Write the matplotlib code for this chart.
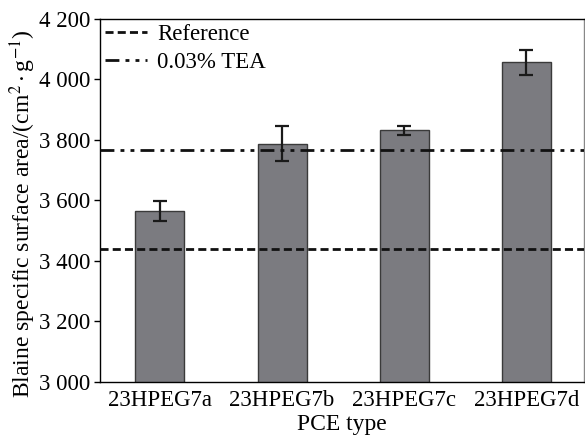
import matplotlib
matplotlib.use("Agg")
import matplotlib.pyplot as plt

plt.rcParams['font.family'] = ['Liberation Serif', 'DejaVu Serif']
plt.rcParams['mathtext.fontset'] = 'stix'

types = ['23HPEG7a', '23HPEG7b', '23HPEG7c', '23HPEG7d']
area = [3565, 3788, 3832, 4057]
err = [32, 58, 15, 42]
ref_line = 3440
tea_line = 3768
yticks = [3000, 3200, 3400, 3600, 3800, 4000, 4200]
ytick_labels = ['3 000', '3 200', '3 400', '3 600', '3 800', '4 000', '4 200']

fig = plt.figure(figsize=(5.85, 4.37), dpi=100)
ax = fig.add_axes([0.171, 0.126, 0.827, 0.8305])

x = range(len(types))
ax.bar(x, area, width=0.4, color='#7b7b80', edgecolor='#3a3a3a', linewidth=1, zorder=2)
ax.errorbar(x, area, yerr=err, fmt='none', ecolor='#1a1a1a', elinewidth=1.6,
            capsize=5, capthick=1.6, zorder=3)

ln1 = ax.axhline(ref_line, color='#111111', lw=2, linestyle=(0, (2.9, 1.5)), label='Reference', zorder=4)
ln2 = ax.axhline(tea_line, color='#111111', lw=2, linestyle=(0, (5, 2.2, 1.4, 2.2, 1.4, 2.2)),
                 label='0.03% TEA', zorder=4)

ax.set_xlim(-0.49, 3.47)
ax.set_ylim(3000, 4200)
ax.set_yticks(yticks)
ax.set_yticklabels(ytick_labels)
ax.set_xticks(list(x))
ax.set_xticklabels(types)
ax.tick_params(axis='x', length=0, labelsize=16.5, pad=6)
ax.tick_params(axis='y', length=4, width=1, labelsize=16.5, pad=3, direction='out')

for s in ax.spines.values():
    s.set_linewidth(1)
ax.spines['right'].set_color('#888888')

ax.set_xlabel('PCE type', fontsize=17, labelpad=2)
ax.set_ylabel(r'Blaine specific surface area/(cm$^2\cdot$g$^{-1}$)', fontsize=17)
ax.yaxis.set_label_coords(-0.128, 0.465)

ax.legend(loc='upper left', frameon=False, fontsize=16.5, handlelength=1.85, handletextpad=0.45,
          borderaxespad=0.1, labelspacing=0.3, borderpad=0.1)

fig.savefig('out.png', dpi=100)
